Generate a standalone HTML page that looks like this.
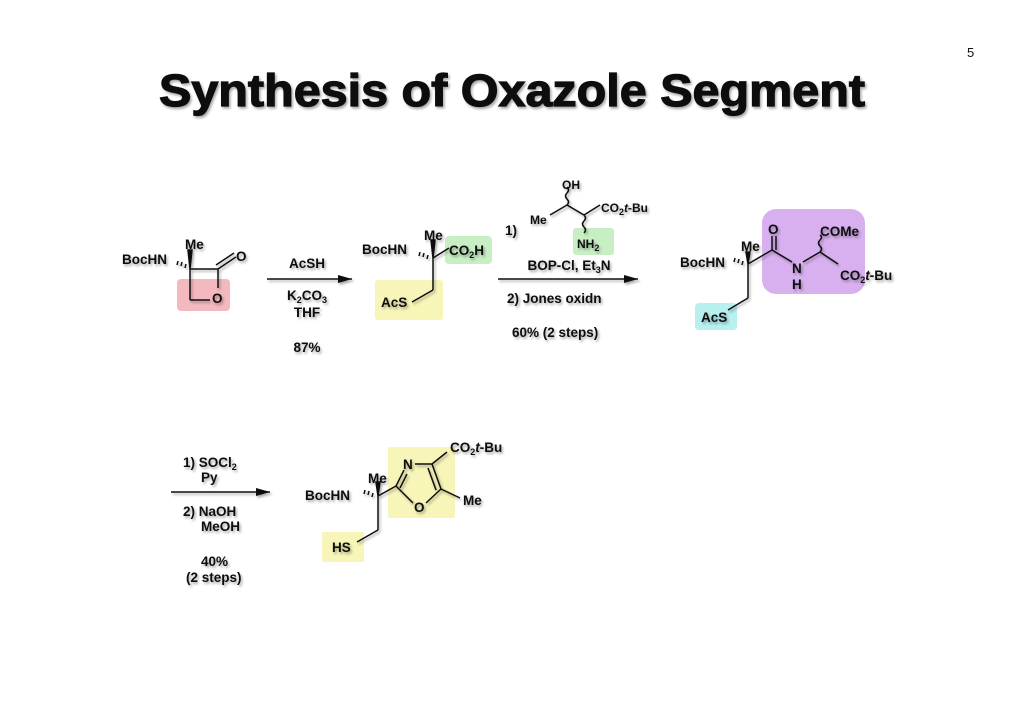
<!DOCTYPE html>
<html><head><meta charset="utf-8"><style>
html,body{margin:0;padding:0;background:#fff;}
svg{display:block;}
text{font-family:"Liberation Sans",Arial,sans-serif;font-weight:bold;fill:#111;}
.s{font-size:13.5px;}
.sub{font-size:9px;}
.sh{filter:url(#ds);}
</style></head><body>
<svg width="1024" height="724" viewBox="0 0 1024 724" xmlns="http://www.w3.org/2000/svg">
<defs>
<filter id="ds" x="-10%" y="-30%" width="130%" height="160%">
<feGaussianBlur in="SourceAlpha" stdDeviation="1.2"/><feOffset dx="1.5" dy="2" result="b"/>
<feComponentTransfer><feFuncA type="linear" slope="0.35"/></feComponentTransfer>
<feMerge><feMergeNode/><feMergeNode in="SourceGraphic"/></feMerge></filter>
<marker id="ar" markerWidth="14" markerHeight="8" refX="14" refY="4" orient="auto" markerUnits="userSpaceOnUse"><path d="M0,0 L14,4 L0,8 z" fill="#111"/></marker>
</defs>
<text x="967" y="57" style="font-weight:normal;font-size:13px">5</text>
<text x="512" y="106" text-anchor="middle" class="sh" style="font-size:45px;stroke:#111;stroke-width:1.2" textLength="706" lengthAdjust="spacingAndGlyphs">Synthesis of Oxazole Segment</text>

<!-- highlight boxes -->
<rect x="177" y="279" width="53" height="32" rx="4" fill="#f4b8bf"/>
<rect x="445" y="236" width="47" height="28" rx="4" fill="#c8efc4"/>
<rect x="375" y="280" width="68" height="40" rx="3" fill="#f7f5b8"/>
<rect x="573" y="228" width="41" height="27" rx="3" fill="#c8efc4"/>
<rect x="762" y="209" width="103" height="85" rx="14" fill="#d8b0f0"/>
<rect x="695" y="303" width="42" height="27" rx="4" fill="#b6f0ef"/>
<rect x="388" y="447" width="67" height="71" rx="2" fill="#f7f5b8"/>
<rect x="322" y="532" width="42" height="30" rx="2" fill="#f7f5b8"/>

<g class="sh" stroke="#111" stroke-width="1.5" fill="none">
<!-- mol1 -->
<line x1="190" y1="269" x2="218" y2="269"/>
<line x1="190" y1="269" x2="190" y2="300"/>
<line x1="190" y1="300" x2="210" y2="300"/>
<line x1="218" y1="269" x2="218" y2="288"/>
<line x1="218" y1="269" x2="236" y2="257"/><line x1="216" y1="265" x2="234" y2="253"/>
<path d="M190,269 L188,250 L192,250 z" fill="#111"/>
<path d="M186,264 l-1,4 M182,262 l-1,4 M178,261 l-1,4"/>
<!-- arrow1 -->
<line x1="267" y1="279" x2="352" y2="279" marker-end="url(#ar)"/>
<!-- mol2 -->
<path d="M433,258 L431,240 L435,240 z" fill="#111"/>
<path d="M428,255 l-1,4 M424,253 l-1,4 M420,252 l-1,4"/>
<line x1="433" y1="258" x2="449" y2="248"/>
<line x1="433" y1="258" x2="433" y2="290"/>
<line x1="433" y1="290" x2="412" y2="302"/>
<!-- arrow2 -->
<line x1="498" y1="279" x2="638" y2="279" marker-end="url(#ar)"/>
<!-- reagent -->
<line x1="550" y1="215" x2="567" y2="205"/>
<line x1="567" y1="205" x2="584" y2="215"/>
<line x1="584" y1="215" x2="600" y2="205"/>
<path d="M567,205 q3,-3 0,-6 q-3,-3 0,-6 q3,-3 0,-6"/>
<path d="M584,215 q3,3 0,6 q-3,3 0,6 q3,3 0,6"/>
<!-- mol3 -->
<path d="M748,264 L746,252 L750,252 z" fill="#111"/>
<path d="M743,261 l-1,4 M739,259 l-1,4 M735,258 l-1,4"/>
<line x1="748" y1="264" x2="772" y2="250"/>
<line x1="772" y1="250" x2="772" y2="236"/><line x1="776" y1="250" x2="776" y2="236"/>
<line x1="772" y1="250" x2="792" y2="262"/>
<line x1="803" y1="262" x2="820" y2="252"/>
<line x1="820" y1="252" x2="838" y2="264"/>
<path d="M820,252 q3,-3 0,-6 q-3,-3 0,-6 q3,-3 0,-5"/>
<line x1="748" y1="264" x2="748" y2="298"/>
<line x1="748" y1="298" x2="728" y2="310"/>
<!-- arrow3 -->
<line x1="171" y1="492" x2="270" y2="492" marker-end="url(#ar)"/>
<!-- mol4 -->
<path d="M378,496 L376,482 L380,482 z" fill="#111"/>
<path d="M373,493 l-1,4 M369,491 l-1,4 M365,490 l-1,4"/>
<line x1="378" y1="496" x2="396" y2="486"/>
<line x1="396" y1="486" x2="404" y2="470"/><line x1="400" y1="488" x2="407" y2="474"/>
<line x1="415" y1="464" x2="432" y2="464"/>
<line x1="432" y1="464" x2="441" y2="489"/><line x1="428" y1="468" x2="436" y2="490"/>
<line x1="432" y1="464" x2="447" y2="452"/>
<line x1="441" y1="489" x2="426" y2="503"/>
<line x1="396" y1="486" x2="413" y2="503"/>
<line x1="441" y1="489" x2="460" y2="498"/>
<line x1="378" y1="496" x2="378" y2="530"/>
<line x1="378" y1="530" x2="357" y2="542"/>
</g>

<g class="sh">
<!-- mol1 -->
<text x="122" y="264" class="s">BocHN</text>
<text x="185" y="249" class="s">Me</text>
<text x="236" y="261" class="s">O</text>
<text x="212" y="303" class="s">O</text>
<text x="307" y="268" class="s" text-anchor="middle">AcSH</text>
<text x="307" y="300" class="s" text-anchor="middle">K<tspan class="sub" dy="3">2</tspan><tspan dy="-3">CO</tspan><tspan class="sub" dy="3">3</tspan></text>
<text x="307" y="317" class="s" text-anchor="middle">THF</text>
<text x="307" y="352" class="s" text-anchor="middle">87%</text>
<!-- mol2 -->
<text x="362" y="254" class="s">BocHN</text>
<text x="424" y="240" class="s">Me</text>
<text x="449" y="255" class="s">CO<tspan class="sub" dy="3">2</tspan><tspan dy="-3">H</tspan></text>
<text x="381" y="307" class="s">AcS</text>
<!-- arrow 2 text -->
<text x="562" y="189" class="s" style="font-size:12px">OH</text>
<text x="530" y="224" class="s" style="font-size:12px">Me</text>
<text x="601" y="212" class="s" style="font-size:12px">CO<tspan class="sub" dy="3">2</tspan><tspan dy="-3" font-style="italic">t</tspan>-Bu</text>
<text x="577" y="248" class="s" style="font-size:12px">NH<tspan class="sub" dy="3">2</tspan></text>
<text x="505" y="235" class="s">1)</text>
<text x="569" y="270" class="s" text-anchor="middle">BOP-Cl, Et<tspan class="sub" dy="3">3</tspan><tspan dy="-3">N</tspan></text>
<text x="507" y="303" class="s">2) Jones oxidn</text>
<text x="512" y="337" class="s">60% (2 steps)</text>
<!-- mol3 -->
<text x="680" y="267" class="s">BocHN</text>
<text x="741" y="251" class="s">Me</text>
<text x="768" y="234" class="s">O</text>
<text x="792" y="273" class="s">N</text>
<text x="792" y="289" class="s">H</text>
<text x="820" y="236" class="s">COMe</text>
<text x="840" y="280" class="s">CO<tspan class="sub" dy="3">2</tspan><tspan dy="-3" font-style="italic">t</tspan>-Bu</text>
<text x="701" y="322" class="s">AcS</text>
<!-- arrow3 text -->
<text x="183" y="467" class="s">1) SOCl<tspan class="sub" dy="3">2</tspan></text>
<text x="201" y="482" class="s">Py</text>
<text x="183" y="516" class="s">2) NaOH</text>
<text x="201" y="531" class="s">MeOH</text>
<text x="201" y="566" class="s">40%</text>
<text x="186" y="582" class="s">(2 steps)</text>
<!-- mol4 -->
<text x="305" y="500" class="s">BocHN</text>
<text x="368" y="483" class="s">Me</text>
<text x="403" y="469" class="s">N</text>
<text x="414" y="512" class="s">O</text>
<text x="450" y="452" class="s">CO<tspan class="sub" dy="3">2</tspan><tspan dy="-3" font-style="italic">t</tspan>-Bu</text>
<text x="463" y="505" class="s">Me</text>
<text x="332" y="552" class="s">HS</text>
</g>
</svg>
</body></html>
